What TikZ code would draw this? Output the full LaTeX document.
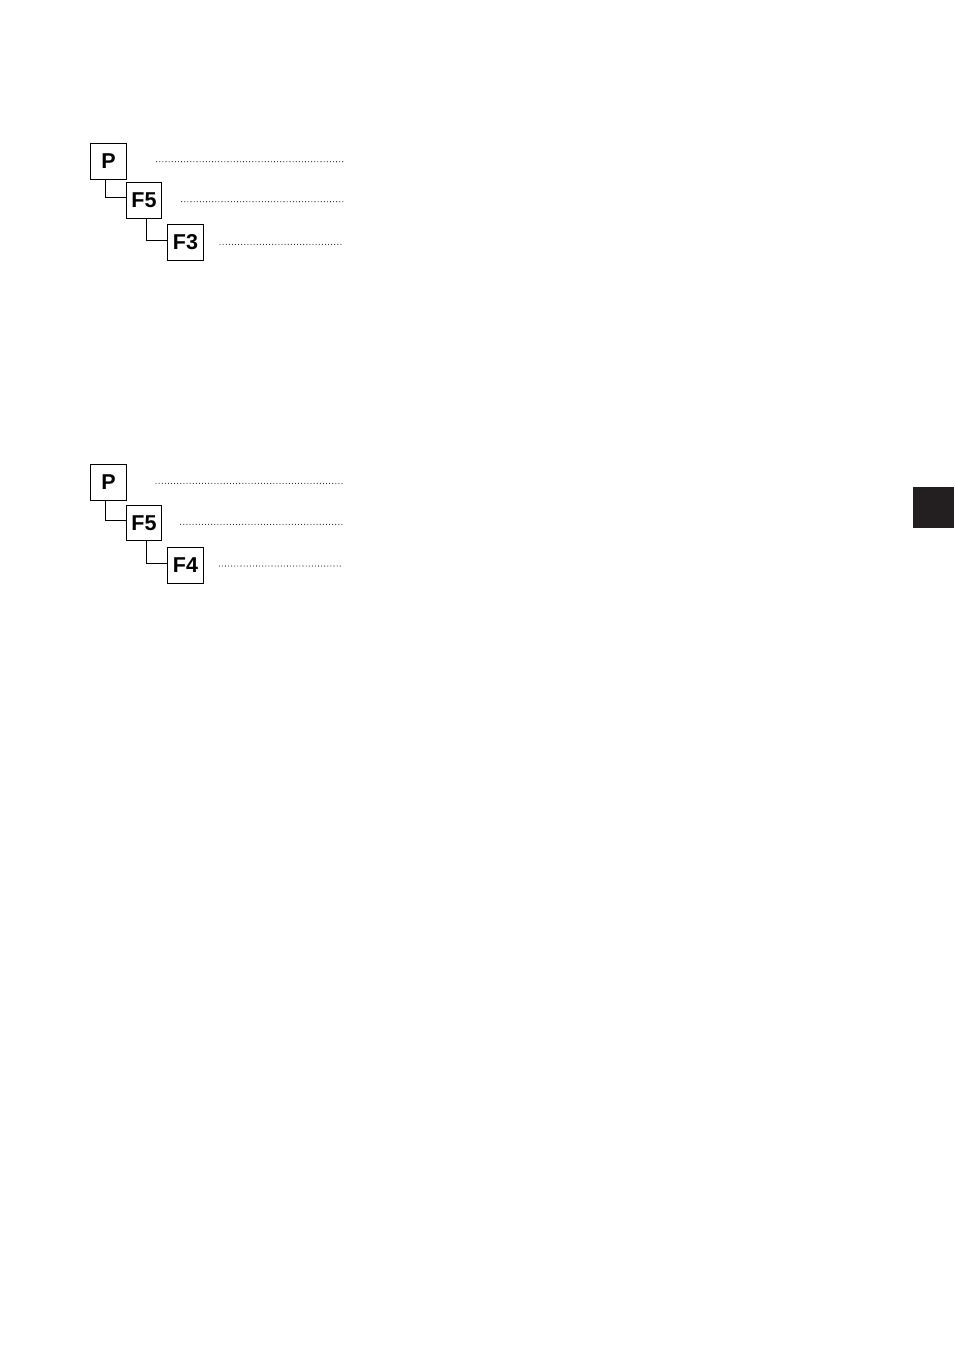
\documentclass[tikz,border=0pt]{standalone}
\usepackage{fontspec}
\setmainfont{Liberation Sans}
\begin{document}
\begin{tikzpicture}[x=1pt,y=-1pt,
  keybox/.style={draw=black,line width=0.9pt,fill=white,minimum width=35.5pt,minimum height=35.5pt,inner sep=0pt,font=\fontsize{21.5}{21.5}\selectfont\bfseries},
  link/.style={draw=black,line width=0.9pt},
  dotline/.style={draw=black,line width=1.1pt,line cap=round,dash pattern=on 0pt off 3.1pt}]
\useasboundingbox (0,0) rectangle (954,1350);
\fill[fill={rgb,255:red,35;green,31;blue,32}] (913,487) rectangle (954,528);
% group 1
\node[keybox] (p1) at (108.5,161.5) {P};
\node[keybox] (a1) at (144,200.5) {F5};
\node[keybox] (b1) at (185.5,242.5) {F3};
\draw[link] ([xshift=-3pt]p1.south) |- ([yshift=3pt]a1.west);
\draw[link] ([xshift=2.5pt]a1.south) |- ([yshift=2.5pt]b1.west);
\coordinate (pe1) at (343,161.7);
\coordinate (ae1) at (343,201.7);
\coordinate (be1) at (343,244.3);
\coordinate (ps1) at (156.7,161.7);
\coordinate (as1) at (181.7,201.7);
\coordinate (bs1) at (220,244.3);
\draw[dotline] (ps1) -- (pe1);
\draw[dotline] (as1) -- (ae1);
\draw[dotline] (bs1) -- (be1);
% group 2
\node[keybox] (p2) at (108.5,482.5) {P};
\node[keybox] (a2) at (144,523) {F5};
\node[keybox] (b2) at (185.5,565.5) {F4};
\draw[link] ([xshift=-3pt]p2.south) |- ([yshift=3pt]a2.west);
\draw[link] ([xshift=2.5pt]a2.south) |- ([yshift=2.5pt]b2.west);
\coordinate (pe2) at (343,483.3);
\coordinate (ae2) at (343,524.3);
\coordinate (be2) at (343,566);
\coordinate (ps2) at (156,483.3);
\coordinate (as2) at (180.7,524.3);
\coordinate (bs2) at (219.3,566);
\draw[dotline] (ps2) -- (pe2);
\draw[dotline] (as2) -- (ae2);
\draw[dotline] (bs2) -- (be2);
\end{tikzpicture}
\end{document}
